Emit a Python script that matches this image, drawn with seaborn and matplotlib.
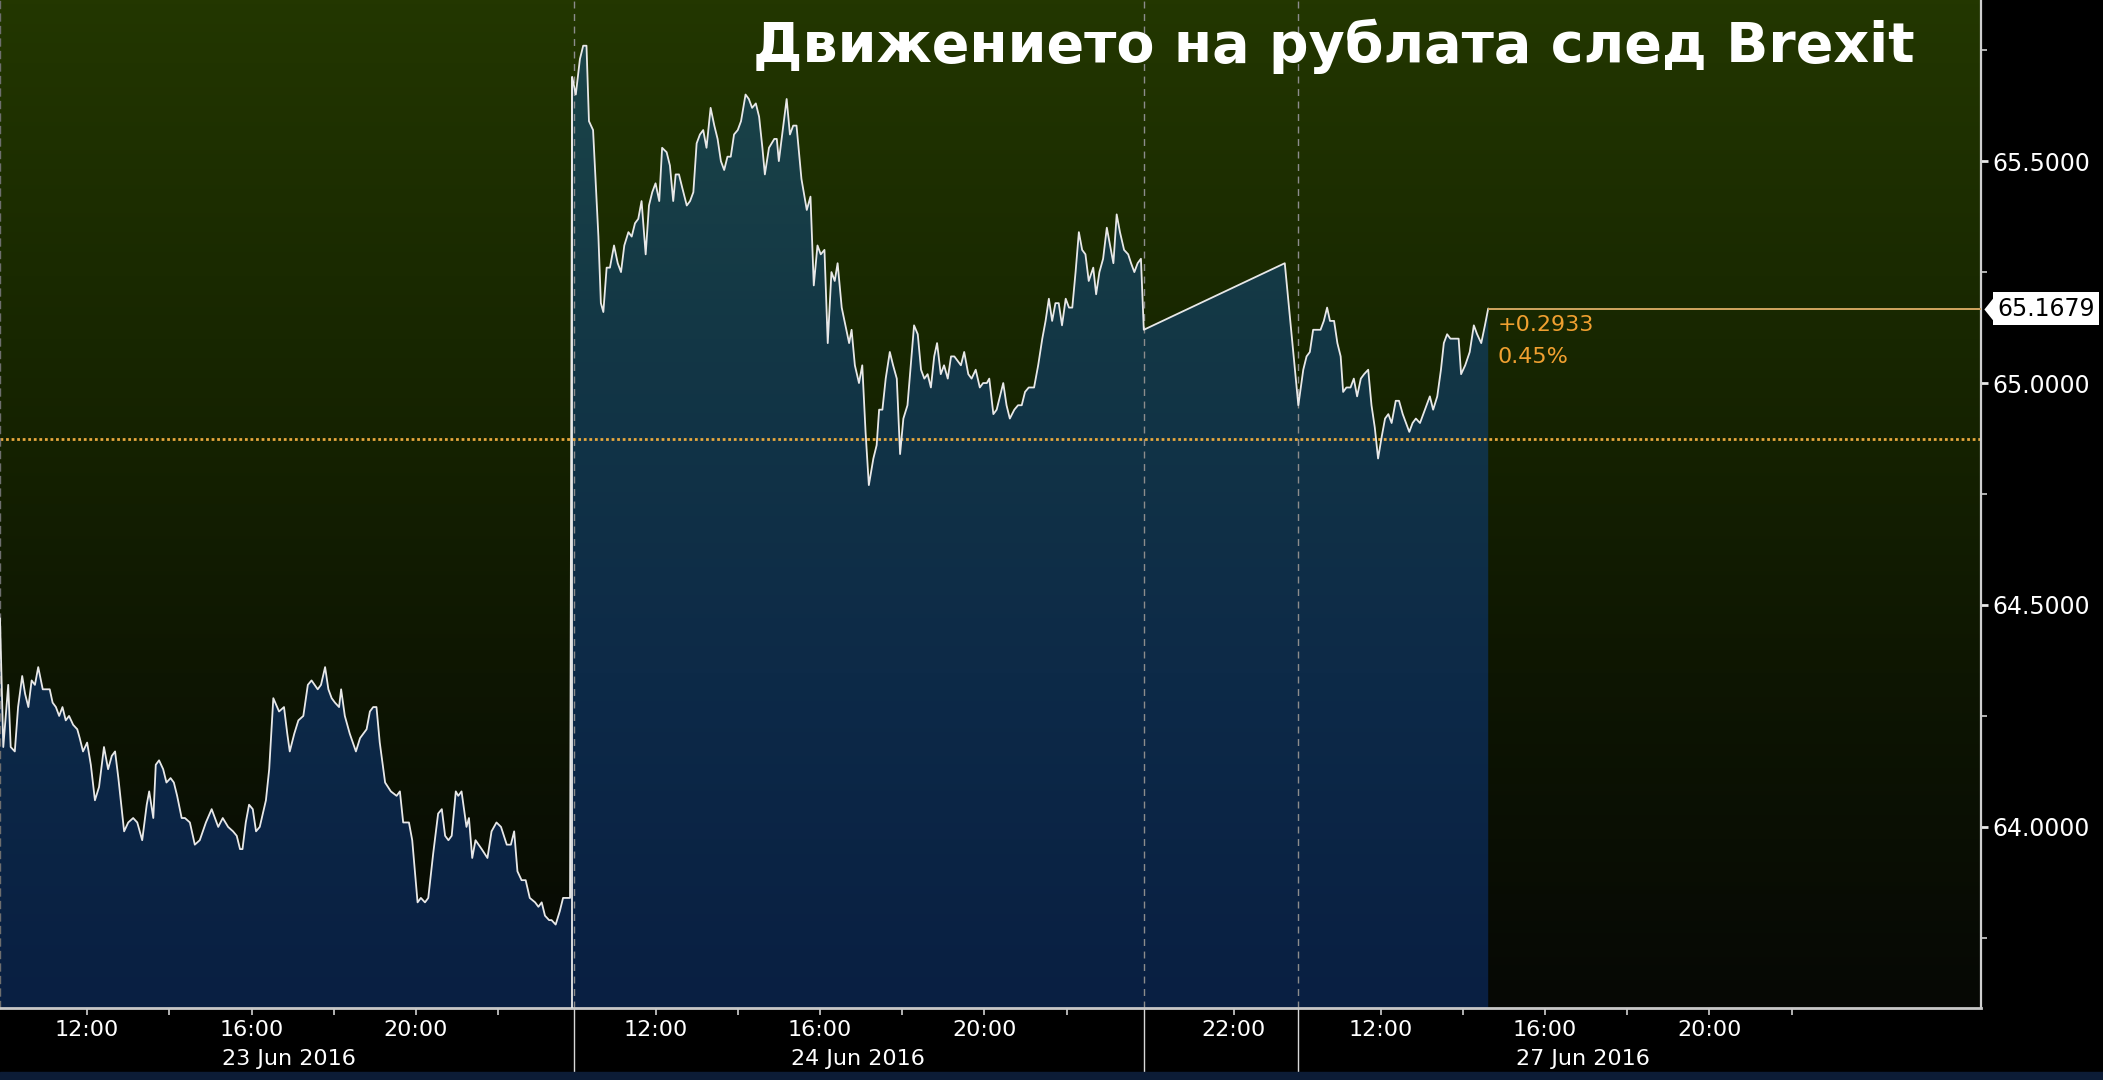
import numpy as np
import pandas as pd
import matplotlib
matplotlib.use('Agg')
import matplotlib.pyplot as plt
import matplotlib.transforms as mtransforms
from matplotlib.colors import LinearSegmentedColormap
from matplotlib.patches import Rectangle
import seaborn as sns

# USD/RUB intraday quotes; x is a compressed session clock
# (hours since 23 Jun 10:00 with the non-trading hours cut out)
t_23 = [-0.12, -0.04, 0.08, 0.14, 0.24, 0.32, 0.42, 0.49, 0.57, 0.65,
        0.73, 0.81, 0.92, 1.01, 1.09, 1.16, 1.24, 1.32, 1.40, 1.48,
        1.56, 1.66, 1.76, 1.82, 1.90, 2.00, 2.09, 2.19, 2.29, 2.41,
        2.51, 2.60, 2.68, 2.76, 2.90, 3.00, 3.12, 3.22, 3.34, 3.45,
        3.51, 3.61, 3.67, 3.75, 3.85, 3.93, 4.03, 4.11, 4.19, 4.30,
        4.38, 4.50, 4.62, 4.74, 4.89, 5.03, 5.19, 5.30, 5.43, 5.55,
        5.64, 5.72, 5.78, 5.86, 5.94, 6.03, 6.11, 6.20, 6.35, 6.43,
        6.53, 6.67, 6.79, 6.87, 6.93, 7.04, 7.14, 7.26, 7.37, 7.46,
        7.61, 7.69, 7.79, 7.87, 7.95, 8.03, 8.13, 8.18, 8.27, 8.39,
        8.54, 8.64, 8.72, 8.80, 8.88, 8.96, 9.04, 9.12, 9.25, 9.39,
        9.53, 9.61, 9.69, 9.83, 9.91, 10.04, 10.12, 10.22, 10.30, 10.42,
        10.54, 10.63, 10.71, 10.79, 10.87, 10.97, 11.03, 11.11, 11.23, 11.29,
        11.37, 11.45, 11.60, 11.74, 11.84, 11.96, 12.07, 12.21, 12.31, 12.39,
        12.47, 12.57, 12.67, 12.77, 12.90, 12.98, 13.06, 13.14, 13.24, 13.30,
        13.40, 13.50, 13.58, 13.67, 13.75]
p_23 = [64.47, 64.18, 64.32, 64.18, 64.17, 64.27, 64.34, 64.30, 64.27, 64.33,
        64.32, 64.36, 64.31, 64.31, 64.31, 64.28, 64.27, 64.25, 64.27, 64.24,
        64.25, 64.23, 64.22, 64.20, 64.17, 64.19, 64.14, 64.06, 64.09, 64.18,
        64.13, 64.16, 64.17, 64.11, 63.99, 64.01, 64.02, 64.01, 63.97, 64.05,
        64.08, 64.02, 64.14, 64.15, 64.13, 64.10, 64.11, 64.10, 64.07, 64.02,
        64.02, 64.01, 63.96, 63.97, 64.01, 64.04, 64.00, 64.02, 64.00, 63.99,
        63.98, 63.95, 63.95, 64.01, 64.05, 64.04, 63.99, 64.00, 64.06, 64.13,
        64.29, 64.26, 64.27, 64.21, 64.17, 64.21, 64.24, 64.25, 64.32, 64.33,
        64.31, 64.32, 64.36, 64.31, 64.29, 64.28, 64.27, 64.31, 64.25, 64.21,
        64.17, 64.20, 64.21, 64.22, 64.26, 64.27, 64.27, 64.19, 64.10, 64.08,
        64.07, 64.08, 64.01, 64.01, 63.97, 63.83, 63.84, 63.83, 63.84, 63.94,
        64.03, 64.04, 63.98, 63.97, 63.98, 64.08, 64.07, 64.08, 64.00, 64.02,
        63.93, 63.97, 63.95, 63.93, 63.99, 64.01, 64.00, 63.96, 63.96, 63.99,
        63.90, 63.88, 63.88, 63.84, 63.83, 63.82, 63.83, 63.80, 63.79, 63.79,
        63.78, 63.81, 63.84, 63.84, 63.84]

t_24 = [13.80, 13.89, 13.99, 14.07, 14.15, 14.21, 14.31, 14.44, 14.50, 14.56,
        14.64, 14.72, 14.82, 14.91, 14.99, 15.07, 15.17, 15.25, 15.33, 15.41,
        15.49, 15.59, 15.67, 15.75, 15.83, 15.92, 15.99, 16.10, 16.18, 16.26,
        16.32, 16.40, 16.48, 16.59, 16.67, 16.75, 16.83, 16.91, 16.99, 17.07,
        17.17, 17.26, 17.34, 17.42, 17.50, 17.58, 17.66, 17.74, 17.83, 17.91,
        18.02, 18.10, 18.18, 18.27, 18.35, 18.43, 18.49, 18.59, 18.72, 18.78,
        18.83, 18.94, 19.02, 19.10, 19.18, 19.26, 19.38, 19.51, 19.60, 19.68,
        19.77, 19.85, 19.94, 20.02, 20.11, 20.19, 20.26, 20.36, 20.45, 20.54,
        20.60, 20.68, 20.78, 20.86, 20.94, 21.02, 21.13, 21.21, 21.27, 21.35,
        21.43, 21.53, 21.61, 21.70, 21.78, 21.86, 21.96, 22.04, 22.12, 22.21,
        22.29, 22.37, 22.45, 22.53, 22.61, 22.68, 22.77, 22.85, 22.94, 23.02,
        23.10, 23.18, 23.26, 23.34, 23.44, 23.52, 23.62, 23.72, 23.80, 23.89,
        23.95, 24.05, 24.13, 24.21, 24.29, 24.37, 24.45, 24.56, 24.65, 24.74,
        24.82, 24.91, 25.04, 25.14, 25.24, 25.32, 25.40, 25.48, 25.56, 25.64,
        25.72, 25.81, 25.89, 25.97, 26.05, 26.13, 26.21, 26.29, 26.37, 26.48,
        26.55, 26.63, 26.72, 26.81, 26.89, 26.97, 27.05, 27.13, 27.23, 27.33,
        27.40, 27.48, 27.56, 27.64, 27.71]
p_24 = [65.69, 65.65, 65.73, 65.76, 65.76, 65.59, 65.57, 65.33, 65.18, 65.16,
        65.26, 65.26, 65.31, 65.27, 65.25, 65.31, 65.34, 65.33, 65.36, 65.37,
        65.41, 65.29, 65.40, 65.43, 65.45, 65.41, 65.53, 65.52, 65.49, 65.41,
        65.47, 65.47, 65.44, 65.40, 65.41, 65.43, 65.54, 65.56, 65.57, 65.53,
        65.62, 65.58, 65.55, 65.50, 65.48, 65.51, 65.51, 65.56, 65.57, 65.59,
        65.65, 65.64, 65.62, 65.63, 65.60, 65.53, 65.47, 65.53, 65.55, 65.55,
        65.50, 65.58, 65.64, 65.56, 65.58, 65.58, 65.46, 65.39, 65.42, 65.22,
        65.31, 65.29, 65.30, 65.09, 65.25, 65.23, 65.27, 65.17, 65.13, 65.09,
        65.12, 65.04, 65.00, 65.04, 64.89, 64.77, 64.83, 64.86, 64.94, 64.94,
        65.01, 65.07, 65.04, 65.01, 64.84, 64.92, 64.95, 65.04, 65.13, 65.11,
        65.03, 65.01, 65.02, 64.99, 65.06, 65.09, 65.02, 65.04, 65.01, 65.06,
        65.06, 65.05, 65.04, 65.07, 65.02, 65.01, 65.03, 64.99, 65.00, 65.00,
        65.01, 64.93, 64.94, 64.97, 65.00, 64.95, 64.92, 64.94, 64.95, 64.95,
        64.98, 64.99, 64.99, 65.04, 65.10, 65.14, 65.19, 65.14, 65.18, 65.18,
        65.13, 65.19, 65.17, 65.17, 65.25, 65.34, 65.30, 65.29, 65.23, 65.26,
        65.20, 65.25, 65.28, 65.35, 65.31, 65.27, 65.38, 65.34, 65.30, 65.29,
        65.27, 65.25, 65.27, 65.28, 65.12]

t_26 = [31.14]
p_26 = [65.27]

t_27 = [31.47, 31.59, 31.67, 31.75, 31.83, 31.91, 32.01, 32.09, 32.17, 32.24,
        32.34, 32.42, 32.50, 32.56, 32.64, 32.74, 32.82, 32.90, 32.99, 33.07,
        33.17, 33.25, 33.33, 33.41, 33.50, 33.58, 33.66, 33.74, 33.84, 33.92,
        34.01, 34.09, 34.17, 34.25, 34.33, 34.43, 34.51, 34.59, 34.67, 34.75,
        34.85, 34.94, 35.01, 35.09, 35.17, 35.28, 35.37, 35.43, 35.53, 35.64,
        35.74, 35.82, 35.92, 36.01, 36.09]
p_27 = [64.95, 65.03, 65.06, 65.07, 65.12, 65.12, 65.12, 65.14, 65.17, 65.14,
        65.14, 65.09, 65.06, 64.98, 64.99, 64.99, 65.01, 64.97, 65.01, 65.02,
        65.03, 64.95, 64.90, 64.83, 64.88, 64.92, 64.93, 64.91, 64.96, 64.96,
        64.93, 64.91, 64.89, 64.91, 64.92, 64.91, 64.93, 64.95, 64.97, 64.94,
        64.97, 65.03, 65.09, 65.11, 65.10, 65.10, 65.10, 65.02, 65.04, 65.07,
        65.13, 65.11, 65.09, 65.13, 65.1679]

prev_close = 64.8746
last_price = 65.1679

session_breaks = [13.84, 27.71, 31.46]
tick_pos = [2.0, 6.0, 10.0, 15.83, 19.83, 23.83, 29.9, 33.47, 37.47, 41.47]
tick_labels = ['12:00', '16:00', '20:00', '12:00', '16:00', '20:00',
               '22:00', '12:00', '16:00', '20:00']
minor_pos = [4.0, 8.0, 12.0, 17.83, 21.83, 25.83, 35.47, 39.47, 43.47]
date_pos = [6.9, 20.75, 38.4]
date_labels = ['23 Jun 2016', '24 Jun 2016', '27 Jun 2016']
y_major = [64.0, 64.5, 65.0, 65.5]
y_minor = [63.75, 64.25, 64.75, 65.25, 65.75]
title = 'Движението на рублата след Brexit'

x_lim = (-0.12, 48.08)
y_lim = (63.592, 65.863)

df = pd.DataFrame({'hours': t_23 + t_24 + t_26 + t_27,
                   'price': p_23 + p_24 + p_26 + p_27})

sns.set_theme(style='dark', rc={'figure.facecolor': 'black', 'axes.facecolor': 'black'})
plt.rcParams['font.family'] = ['DejaVu Sans']

fig = plt.figure(figsize=(21.03, 10.80), dpi=100)
ax = fig.add_axes([0, 72 / 1080, 1981 / 2103, 1008 / 1080])

# background gradient (olive at top, almost black at bottom)
bg_cmap = LinearSegmentedColormap.from_list(
    'bg', ['#060805', '#0e1602', '#182700', '#233700'])
grad = np.linspace(0, 1, 256)[:, None]
ax.imshow(grad, extent=[x_lim[0], x_lim[1], y_lim[0], y_lim[1]], origin='lower',
          aspect='auto', cmap=bg_cmap, zorder=0)

# area under the price line, gradient teal -> navy, clipped to the area
fill_cmap = LinearSegmentedColormap.from_list(
    'fill', ['#091f42', '#0d2a48', '#133745', '#1c4649'])
poly = ax.fill_between(df['hours'], df['price'], y_lim[0], facecolor='none',
                       edgecolor='none', zorder=1)
fill_img = ax.imshow(grad, extent=[x_lim[0], x_lim[1], y_lim[0], y_lim[1]],
                     origin='lower', aspect='auto', cmap=fill_cmap, zorder=1)
fill_img.set_clip_path(poly.get_paths()[0], transform=ax.transData)

# session separators
for xb in session_breaks:
    ax.axvline(xb, color='#8c8c8c', lw=1.0, ls=(0, (5, 4)), zorder=2)
ax.vlines(t_24[0], y_lim[0], p_24[0], color='#e8e8e8', lw=1.3, zorder=3)

# previous close
ax.axhline(prev_close, color='#e8a83e', lw=2.0, ls=(0, (1, 1)), zorder=2.5)

sns.lineplot(data=df, x='hours', y='price', ax=ax, color='#e8e8e8', lw=1.3,
             estimator=None, sort=False, zorder=3)

# last price line to the axis
ax.hlines(last_price, df['hours'].iloc[-1], x_lim[1], color='#d2a661', lw=1.4, zorder=3)

ax.set_xlim(*x_lim)
ax.set_ylim(*y_lim)
ax.set_xlabel('')
ax.set_ylabel('')
ax.grid(False)

# axes styling
ax.yaxis.tick_right()
ax.set_yticks(y_major)
ax.set_yticks(y_minor, minor=True)
ax.set_yticklabels([f'{v:.4f}' for v in y_major])
ax.tick_params(axis='y', which='major', colors='#e8e8e8', labelcolor='white',
               labelsize=17, length=5, width=2, pad=3, direction='out', right=True, left=False)
ax.tick_params(axis='y', which='minor', colors='#d0d0d0', length=4, width=1.2,
               right=True, left=False)
ax.set_xticks(tick_pos)
ax.set_xticks(minor_pos, minor=True)
ax.set_xticklabels(tick_labels)
ax.tick_params(axis='x', which='major', colors='#d0d0d0', labelcolor='white',
               labelsize=16, length=5, width=1.2, pad=4, direction='out', bottom=True)
ax.tick_params(axis='x', which='minor', colors='#d0d0d0', length=5, width=1.2,
               bottom=True)

ax.spines['top'].set_visible(False)
ax.spines['right'].set_color('#cfcfcf')
ax.spines['right'].set_linewidth(1.6)
ax.spines['bottom'].set_color('#c8c8c8')
ax.spines['bottom'].set_linewidth(2.0)
ax.spines['left'].set_color('#6e6e6e')
ax.spines['left'].set_linewidth(1.0)
ax.spines['left'].set_linestyle((0, (5, 4)))

# date labels and separators below the axis
xt = ax.get_xaxis_transform()
for xp, lab in zip(date_pos, date_labels):
    ax.text(xp, -0.0505, lab, transform=xt, ha='center', va='center',
            color='white', fontsize=16)
ax.vlines(session_breaks, -0.064, 0, transform=xt, color='#d8d8d8', lw=1.0,
          clip_on=False)

# change annotation next to the last point
chg = last_price - prev_close
pct = chg / prev_close * 100
t_last = df['hours'].iloc[-1]
ax.annotate(f'{chg:+.4f}', xy=(t_last, last_price), xytext=(7, -12),
            textcoords='offset points', ha='left', va='center',
            color='#f0a030', fontsize=16, zorder=5)
ax.annotate(f'{pct:.2f}%', xy=(t_last, last_price), xytext=(7, -35),
            textcoords='offset points', ha='left', va='center',
            color='#f0a030', fontsize=16, zorder=5)

# last price tag on the right axis
yt = mtransforms.blended_transform_factory(ax.transAxes, ax.transData)
ax.annotate(f'{last_price:.4f}', xy=(1, last_price), xycoords=yt,
            xytext=(12, 0), textcoords='offset points', ha='left', va='center',
            color='black', fontsize=17, annotation_clip=False,
            bbox=dict(boxstyle='square,pad=0.18', fc='white', ec='none'))
tip = mtransforms.offset_copy(yt, fig=fig, x=6.5, y=0, units='points')
ax.plot([1], [last_price], transform=tip, marker=[(-0.4, 0), (0.4, 1), (0.4, -1)],
        ms=22, color='white', mec='none', clip_on=False, zorder=6)

fig.text(1915 / 2103, 1 - 62 / 1080, title, ha='right', va='baseline',
         fontsize=40, fontweight='bold', color='white')

fig.patches.append(Rectangle((0, 0), 1, 8 / 1080, transform=fig.transFigure,
                             color='#0c1c36', zorder=0))

fig.savefig('out.png', dpi=100, facecolor='black')
